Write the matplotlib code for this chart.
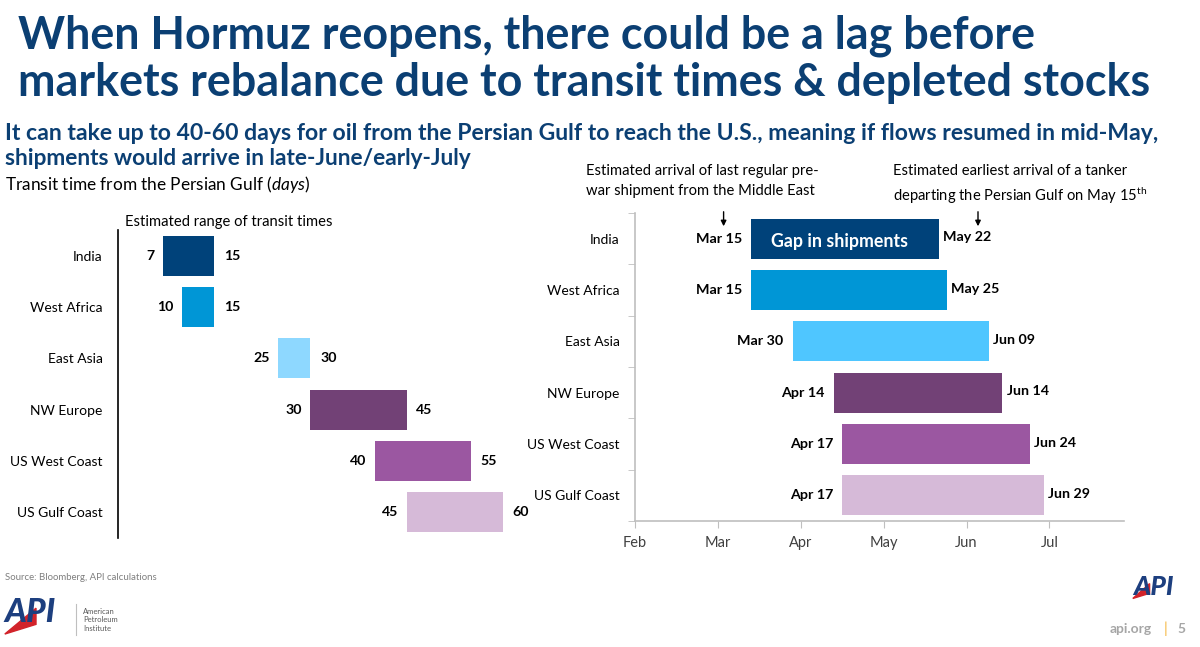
import numpy as np
import pandas as pd
import matplotlib
matplotlib.use("Agg")
import matplotlib.pyplot as plt
import matplotlib.dates as mdates
from matplotlib.patches import Polygon

plt.rcParams['font.family'] = ['Lato', 'DejaVu Sans']
plt.rcParams['mathtext.fontset'] = 'custom'
plt.rcParams['mathtext.rm'] = 'Lato'
plt.rcParams['mathtext.it'] = 'Lato:italic'
plt.rcParams['mathtext.bf'] = 'Lato:bold'

# data
regions = ["India", "West Africa", "East Asia", "NW Europe", "US West Coast", "US Gulf Coast"]
transit_min = [7, 10, 25, 30, 40, 45]
transit_max = [15, 15, 30, 45, 55, 60]
last_prewar = ["2025-03-15", "2025-03-15", "2025-03-30", "2025-04-14", "2025-04-17", "2025-04-17"]
first_arrival = ["2025-05-22", "2025-05-25", "2025-06-09", "2025-06-14", "2025-06-24", "2025-06-29"]

left_colors = ["#00427A", "#0096D6", "#8ED8FF", "#724176", "#9B57A1", "#D6BAD8"]
right_colors = ["#00427A", "#0096D6", "#4FC6FF", "#724176", "#9B57A1", "#D6BAD8"]
NAVY = "#0B3F73"

fig = plt.figure(figsize=(12, 6.47), dpi=100)
y = np.arange(len(regions))

# --- left: transit time ranges
ax1 = fig.add_axes([0.0983, 0.1685, 0.369, 0.476])
lo = np.array(transit_min)
hi = np.array(transit_max)
ax1.barh(y, hi - lo, left=lo, height=0.78, color=left_colors)
for yi, a, b in zip(y, lo, hi):
    ax1.annotate(str(a), (a, yi), xytext=(-6, 0), textcoords='offset points',
                 ha='right', va='center', fontsize=10.2, fontweight='bold')
    ax1.annotate(str(b), (b, yi), xytext=(7, 0), textcoords='offset points',
                 ha='left', va='center', fontsize=10.2, fontweight='bold')
ax1.set_xlim(0, 69)
ax1.set_ylim(5.5, -0.5)
ax1.set_yticks(y, regions)
ax1.tick_params(axis='y', length=0, pad=11, labelsize=10)
ax1.set_xticks([])
for s in ['top', 'right', 'bottom']:
    ax1.spines[s].set_visible(False)
ax1.spines['left'].set_linewidth(1.2)

# --- right: gap in shipments
ax2 = fig.add_axes([0.5292, 0.1947, 0.4075, 0.476])
start = mdates.date2num(pd.to_datetime(last_prewar).to_numpy())
end = mdates.date2num(pd.to_datetime(first_arrival).to_numpy())
ax2.barh(y, end - start, left=start, height=0.78, color=right_colors)
for yi, s0, s1, d0, d1 in zip(y, start, end, last_prewar, first_arrival):
    ax2.annotate(pd.Timestamp(d0).strftime('%b %d'), (s0, yi), xytext=(-6.5, 0),
                 textcoords='offset points', ha='right', va='center',
                 fontsize=10.3, fontweight='bold')
    ax2.annotate(pd.Timestamp(d1).strftime('%b %d'), (s1, yi), xytext=(3, 1),
                 textcoords='offset points', ha='left', va='center',
                 fontsize=10.3, fontweight='bold')
ax2.text((start[0] + end[0]) / 2 - 2, 0.05, "Gap in shipments", color='white',
         ha='center', va='center', fontsize=12.8, fontweight='bold')

x0 = mdates.date2num(pd.Timestamp("2025-02-01"))
ax2.set_xlim(x0, x0 + 177)
ax2.set_xticks(x0 + 30 * np.arange(6))
ax2.xaxis.set_major_formatter(mdates.DateFormatter('%b'))
ax2.set_ylim(5.5, -0.5)
ax2.set_yticks(y, regions)
ax2.set_yticks(np.arange(-0.5, 6), minor=True)
ax2.tick_params(axis='y', which='major', length=0, pad=11, labelsize=10)
ax2.tick_params(axis='y', which='minor', length=5, color='#BFBFBF')
ax2.tick_params(axis='x', length=5, color='#BFBFBF', pad=6, labelsize=10.5,
                labelcolor='#404040')
for s in ['top', 'right']:
    ax2.spines[s].set_visible(False)
for s in ['left', 'bottom']:
    ax2.spines[s].set_color('#BFBFBF')
    ax2.spines[s].set_linewidth(1.2)

# --- titles and notes
fig.text(0.015, 0.9258, "When Hormuz reopens, there could be a lag before",
         fontsize=32.3, fontweight='bold', color=NAVY, va='baseline')
fig.text(0.015, 0.8516, "markets rebalance due to transit times & depleted stocks",
         fontsize=32.3, fontweight='bold', color=NAVY, va='baseline')
fig.text(0.004, 0.784, "It can take up to 40-60 days for oil from the Persian Gulf to reach the U.S., "
         "meaning if flows resumed in mid-May,", fontsize=16.6, fontweight='bold',
         color=NAVY, va='baseline')
fig.text(0.004, 0.745, "shipments would arrive in late-June/early-July", fontsize=16.3,
         fontweight='bold', color=NAVY, va='baseline')
fig.text(0.004, 0.706, r"Transit time from the Persian Gulf $\mathit{(days)}$", fontsize=12.4,
         va='baseline')
fig.text(0.104, 0.657, "Estimated range of transit times", fontsize=10.6, va='center')

fig.text(0.488, 0.747, "Estimated arrival of last regular pre-\nwar shipment from the Middle East",
         fontsize=10.6, va='top', linespacing=1.55)
fig.text(0.744, 0.747, "Estimated earliest arrival of a tanker\n"
         r"departing the Persian Gulf on May 15$^{\mathrm{th}}$",
         fontsize=10.6, va='top', linespacing=1.55)
for xa in [0.603, 0.815]:
    fig.add_artist(matplotlib.patches.FancyArrowPatch(
        (xa, 0.677), (xa, 0.646), transform=fig.transFigure,
        arrowstyle='-|>', mutation_scale=8, color='black', lw=1))

fig.text(0.004, 0.108, "Source: Bloomberg, API calculations", fontsize=6.9, color='#7F7F7F',
         va='center')

# --- footer logos
fig.text(0.004, 0.038, "API", fontsize=24, fontweight='black', fontstyle='italic',
         color='#1D3F7F', va='baseline')
fig.add_artist(Polygon([[0.004, 0.02], [0.03, 0.06], [0.03, 0.035]], closed=True,
                       transform=fig.transFigure, color='#D2232A'))
fig.add_artist(matplotlib.lines.Line2D([0.0633, 0.0633], [0.018, 0.066],
                                       transform=fig.transFigure, color='#BFBFBF', lw=0.8))
fig.text(0.069, 0.042, "American\nPetroleum\nInstitute", fontsize=5.5, color='#595959',
         va='center', linespacing=1.2)
fig.text(0.944, 0.08, "API", fontsize=19, fontweight='black', fontstyle='italic',
         color='#1D3F7F', va='baseline')
fig.add_artist(Polygon([[0.944, 0.075], [0.958, 0.098], [0.958, 0.083]], closed=True,
                       transform=fig.transFigure, color='#D2232A'))
fig.text(0.925, 0.022, "api.org", fontsize=10, fontweight='bold', color='#A6A6A6', va='baseline')
fig.text(0.970, 0.022, "|", fontsize=11, color='#F5B335', va='baseline')
fig.text(0.981, 0.022, "5", fontsize=10, fontweight='bold', color='#A6A6A6', va='baseline')

fig.savefig("out.png", dpi=100)
